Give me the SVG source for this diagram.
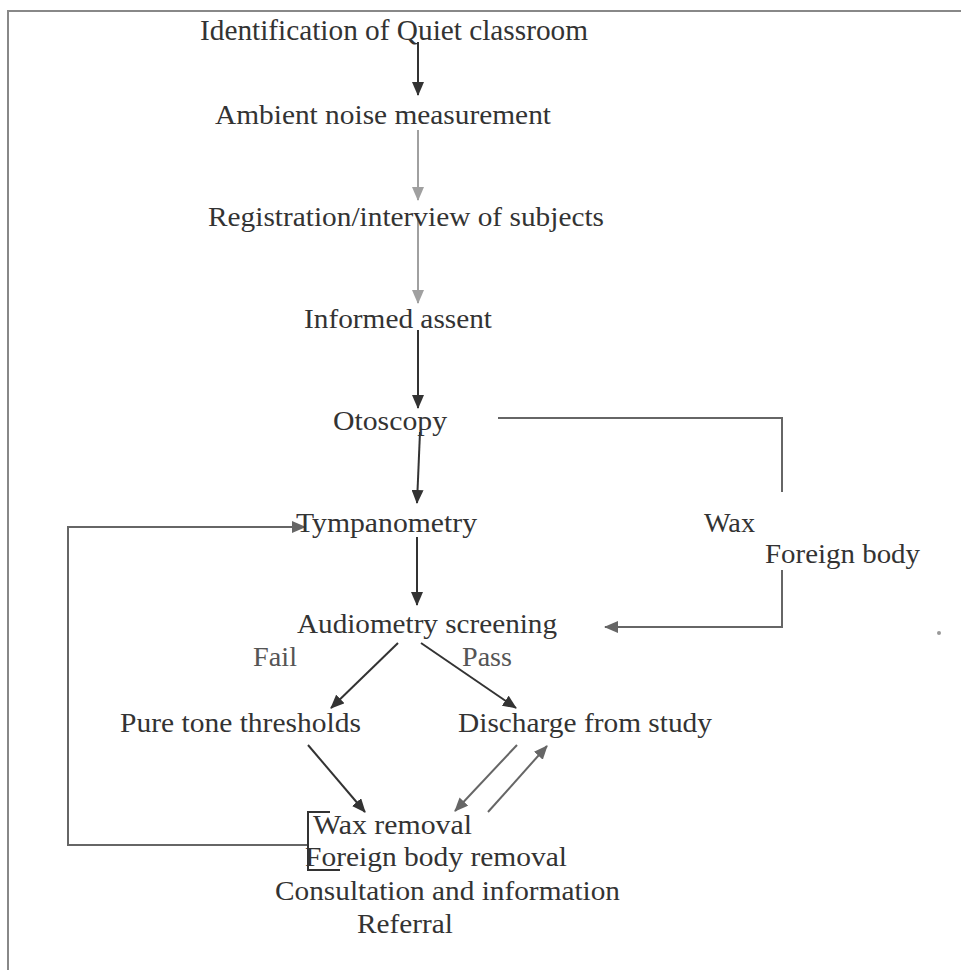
<svg xmlns="http://www.w3.org/2000/svg" width="961" height="970" viewBox="0 0 961 970">
<style>
text{font-family:"Liberation Serif","Times New Roman",serif;font-size:28px;fill:#333}
.lt{fill:#555}
.c{fill:none;stroke-width:2}
.dk{stroke:#333}
.gy{stroke:#a0a0a0}
.md{stroke:#666}
</style>
<defs>
<marker id="ad" markerUnits="userSpaceOnUse" markerWidth="14" markerHeight="12" refX="13" refY="6" orient="auto"><path d="M0,0 L14,6 L0,12 Z" fill="#333"/></marker>
<marker id="ag" markerUnits="userSpaceOnUse" markerWidth="14" markerHeight="12" refX="13" refY="6" orient="auto"><path d="M0,0 L14,6 L0,12 Z" fill="#a0a0a0"/></marker>
<marker id="am" markerUnits="userSpaceOnUse" markerWidth="14" markerHeight="12" refX="13" refY="6" orient="auto"><path d="M0,0 L14,6 L0,12 Z" fill="#666"/></marker>
</defs>
<rect width="961" height="970" fill="#fff"/>
<g id="frame" fill="none" stroke="#888" stroke-width="2"><path d="M961,11 H8 V970"/></g>
<g id="connectors">
<line class="c dk" x1="418" y1="42" x2="418" y2="95" marker-end="url(#ad)"/>
<line class="c gy" x1="418" y1="130" x2="418" y2="200" marker-end="url(#ag)"/>
<line class="c gy" x1="418" y1="218" x2="418" y2="303" marker-end="url(#ag)"/>
<line class="c dk" x1="418" y1="330" x2="418" y2="408" marker-end="url(#ad)"/>
<line class="c dk" x1="420" y1="432" x2="417" y2="503" marker-end="url(#ad)"/>
<line class="c dk" x1="417" y1="537" x2="417" y2="605" marker-end="url(#ad)"/>
<polyline class="c md" points="498,418 782,418 782,492"/>
<polyline class="c md" points="782,570 782,627 605,627" marker-end="url(#am)"/>
<line class="c dk" x1="398" y1="643" x2="331" y2="708" marker-end="url(#ad)"/>
<line class="c dk" x1="421" y1="643" x2="516" y2="708" marker-end="url(#ad)"/>
<line class="c dk" x1="308" y1="745" x2="365" y2="812" marker-end="url(#ad)"/>
<line class="c md" x1="517" y1="745" x2="455" y2="811" marker-end="url(#am)"/>
<line class="c md" x1="488" y1="812" x2="547" y2="746" marker-end="url(#am)"/>
<polyline class="c md" points="308,845 68,845 68,527 305,527" marker-end="url(#am)"/>
<path class="c dk" d="M330,812 H308 V870 H340"/>
</g>
<g id="n-title"><text x="200" y="40" textLength="388" lengthAdjust="spacingAndGlyphs" style="font-size:30px">Identification of Quiet classroom</text></g>
<g id="n-ambient"><text x="215" y="124" textLength="336" lengthAdjust="spacingAndGlyphs">Ambient noise measurement</text></g>
<g id="n-registration"><text x="208" y="226" textLength="396" lengthAdjust="spacingAndGlyphs">Registration/interview of subjects</text></g>
<g id="n-assent"><text x="304" y="328" textLength="188" lengthAdjust="spacingAndGlyphs">Informed assent</text></g>
<g id="n-otoscopy"><text x="333" y="430" textLength="114" lengthAdjust="spacingAndGlyphs">Otoscopy</text></g>
<g id="n-tympanometry"><text x="296" y="532" textLength="181" lengthAdjust="spacingAndGlyphs">Tympanometry</text></g>
<g id="n-wax"><text x="704" y="532" textLength="51" lengthAdjust="spacingAndGlyphs">Wax</text></g>
<g id="n-foreign"><text x="765" y="563" textLength="155" lengthAdjust="spacingAndGlyphs">Foreign body</text></g>
<g id="n-audiometry"><text x="297" y="633" textLength="260" lengthAdjust="spacingAndGlyphs">Audiometry screening</text></g>
<g id="l-fail"><text class="lt" x="253" y="666" textLength="44" lengthAdjust="spacingAndGlyphs">Fail</text></g>
<g id="l-pass"><text class="lt" x="462" y="666" textLength="50" lengthAdjust="spacingAndGlyphs">Pass</text></g>
<g id="n-puretone"><text x="120" y="732" textLength="241" lengthAdjust="spacingAndGlyphs">Pure tone thresholds</text></g>
<g id="n-discharge"><text x="458" y="732" textLength="254" lengthAdjust="spacingAndGlyphs">Discharge from study</text></g>
<g id="n-management">
<text x="313" y="834" textLength="159" lengthAdjust="spacingAndGlyphs">Wax removal</text>
<text x="305" y="866" textLength="262" lengthAdjust="spacingAndGlyphs">Foreign body removal</text>
<text x="275" y="900" textLength="345" lengthAdjust="spacingAndGlyphs">Consultation and information</text>
<text x="357" y="933" textLength="96" lengthAdjust="spacingAndGlyphs">Referral</text>
</g>
<circle cx="939" cy="633" r="2" fill="#999"/>
</svg>
